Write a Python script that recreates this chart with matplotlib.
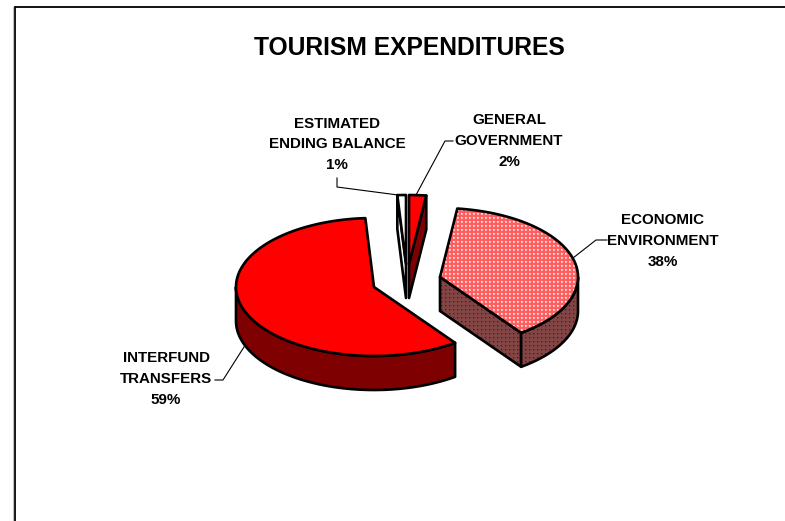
# -*- coding: utf-8 -*-
import numpy as np
import matplotlib
matplotlib.use('agg')
import matplotlib.pyplot as plt
from matplotlib.patches import Polygon

# data, clockwise from twelve o'clock
categories = ['GENERAL\nGOVERNMENT', 'ECONOMIC\nENVIRONMENT', 'INTERFUND\nTRANSFERS', 'ESTIMATED\nENDING BALANCE']
percents = [2, 38, 59, 1]

# pixel layout of the exploded slices
centers = [(409, 264), (440, 277), (374, 287), (406, 264)]
labelPos = [(509, 141), (663, 241), (166, 379), (337, 144.5)]
leaders = [[(453, 141), (445, 141), (416, 195)],
           [(607, 240), (596, 240), (573, 258)],
           [(215, 380), (223, 380), (244, 347)],
           [(337, 178), (337, 187), (398, 195)]]
topColors = ['#ff0000', 'tile', '#ff0000', '#ffffff']
sideColors = ['#7f0000', 'tiledark', '#7f0000', '#ffffff']

rx, ry, depth = 138, 69, 34
lineW = 1.9

plt.rcParams['font.family'] = ['Liberation Sans', 'DejaVu Sans']
fig = plt.figure(figsize=(7.85, 5.21), dpi=100)
ax = fig.add_axes([0, 0, 1, 1])
ax.set_xlim(0, 785)
ax.set_ylim(521, 0)
ax.axis('off')


def makeTile(base, mid, dot):
    tile = np.zeros((4, 4, 3))
    tile[:] = base
    tile[1:3, 1:3] = mid
    tile[1, 1] = dot
    return np.tile(tile, (131, 197, 1))[:521, :785] / 255


tiles = {'tile': makeTile((255, 95, 95), (255, 185, 185), (255, 240, 240)),
         'tiledark': makeTile((128, 70, 70), (125, 55, 55), (105, 10, 10))}


def rim(center, a0, a1):
    # points on the ellipse, angles in degrees clockwise from north
    n = max(int(abs(a1 - a0)) * 2, 2)
    a = np.radians(np.linspace(a0, a1, n))
    return center[0] + rx * np.sin(a), center[1] - ry * np.cos(a)


def fillShape(xs, ys, color, z):
    pts = np.column_stack([xs, ys])
    if color in tiles:
        img = ax.imshow(tiles[color], extent=(0, 785, 521, 0), interpolation='nearest', aspect='auto', zorder=z)
        img.set_clip_path(Polygon(pts, closed=True, transform=ax.transData))
        ax.add_patch(Polygon(pts, closed=True, fill=False, edgecolor='black', linewidth=lineW, joinstyle='round', zorder=z))
    else:
        ax.add_patch(Polygon(pts, closed=True, facecolor=color, edgecolor='black', linewidth=lineW, joinstyle='round', zorder=z))


start = 0.0
for i in range(len(percents)):
    end = start + percents[i] * 3.6
    c = centers[i]
    z = 3 + i
    # cut faces turned towards the viewer
    for ang, visible in ((start, 180 < start < 360), (end, 0 < end < 180)):
        if visible:
            ex, ey = rim(c, ang, ang)
            ex, ey = ex[0], ey[0]
            fillShape([c[0], ex, ex, c[0]], [c[1], ey, ey + depth, c[1] + depth], sideColors[i], z)
    # outer wall, only the front half shows
    w0, w1 = max(start, 90), min(end, 270)
    if w0 < w1:
        wx, wy = rim(c, w0, w1)
        fillShape(np.r_[wx, wx[::-1]], np.r_[wy, wy[::-1] + depth], sideColors[i], z)
    # top
    tx, ty = rim(c, start, end)
    fillShape(np.r_[c[0], tx], np.r_[c[1], ty], topColors[i], z + 0.5)
    # label and leader
    lx, ly = zip(*leaders[i])
    ax.plot(lx, ly, color='black', linewidth=0.8, zorder=10)
    ax.text(labelPos[i][0], labelPos[i][1], '%s\n%d%%' % (categories[i], percents[i]), ha='center', va='center',
            fontsize=10.9, fontweight='bold', linespacing=1.62, zorder=11)
    start = end

ax.set_xlim(0, 785)
ax.set_ylim(521, 0)

# chart frame, open at right and bottom
ax.plot([14.5, 14.5, 785], [521, 6.5, 6.5], color='black', linewidth=1.3, solid_joinstyle='miter', zorder=1)
ax.plot([13, 13], [7, 521], color='#c0c0c0', linewidth=0.8, zorder=1)

ax.text(409, 48, 'TOURISM EXPENDITURES', ha='center', va='center', fontsize=17.7, fontweight='bold')

fig.savefig('out.png', dpi=100)
